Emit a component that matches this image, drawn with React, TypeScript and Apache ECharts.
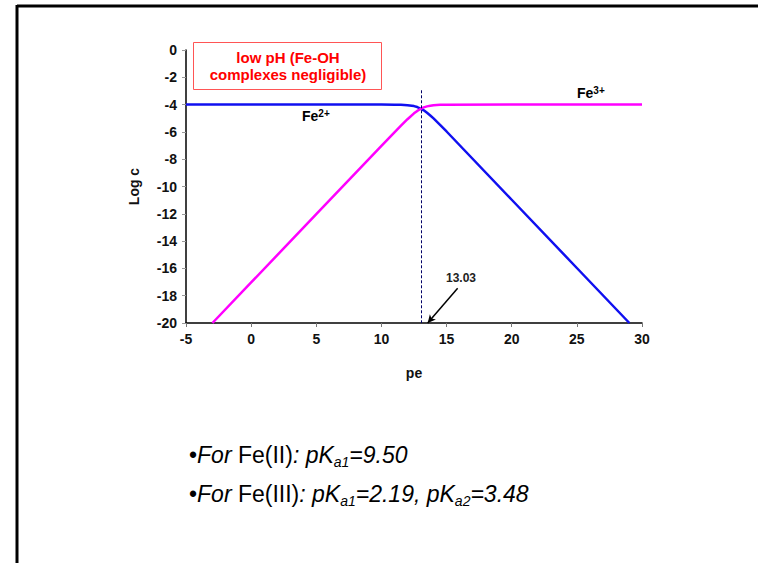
import React, { useEffect, useRef } from "react";
import * as echarts from "echarts";

// Data
const fe2Pe = [-5, 0, 5, 10, 11, 11.5, 12, 12.5, 12.75, 13, 13.25, 13.5, 13.75, 14, 14.5, 15, 20, 25, 29.03];
const fe2LogC = [-4, -4, -4, -4, -4.004, -4.013, -4.04, -4.11, -4.18, -4.29, -4.42, -4.6, -4.8, -5.01, -5.48, -5.97, -10.97, -15.97, -20];
const fe3Pe = [-2.97, 0, 5, 10, 11, 11.5, 12, 12.5, 12.75, 13, 13.25, 13.5, 13.75, 14, 14.5, 15, 20, 30];
const fe3LogC = [-20, -17.03, -12.03, -7.03, -6.03, -5.54, -5.07, -4.64, -4.46, -4.32, -4.2, -4.13, -4.08, -4.04, -4.014, -4.005, -4, -4];
const crossPe = 13.03;
const dashTop = -2.95;
const arrowFrom = [15.85, -17.45];
const arrowTo = [13.55, -20];

const xMin = -5, xMax = 30, xStep = 5;
const yMin = -20, yMax = 0, yStep = 2;

export default function App() {
  const ref = useRef<HTMLDivElement>(null);
  useEffect(() => {
    if (!ref.current) return;
    const chart = echarts.init(ref.current, null, { renderer: "svg" });
    const purple = "#9900CC";
    const font = "Liberation Sans, Arial, sans-serif";
    const rich = {
      n: { fontSize: 23, fontFamily: font, color: purple, fontStyle: "normal" },
      i: { fontSize: 23, fontFamily: font, color: purple, fontStyle: "italic" },
      s: { fontSize: 14, fontFamily: font, color: purple, fontStyle: "italic", verticalAlign: "bottom", padding: [0, 0, -2, 0] },
    };
    chart.setOption({
      animation: false,
      backgroundColor: "#fff",
      grid: { left: 186, top: 50, right: 116, bottom: 240, containLabel: false },
      xAxis: {
        type: "value",
        min: xMin,
        max: xMax,
        interval: xStep,
        name: "pe",
        nameLocation: "middle",
        nameGap: 43,
        nameTextStyle: { fontWeight: "bold", fontSize: 14, fontFamily: font, color: "#111" },
        axisLine: { onZero: false, lineStyle: { color: "#000", width: 1.5 } },
        axisTick: { show: true, length: 4, lineStyle: { color: "#777" } },
        axisLabel: { fontWeight: "bold", fontSize: 14, fontFamily: font, color: "#111", margin: 9 },
        splitLine: { show: false },
      },
      yAxis: {
        type: "value",
        min: yMin,
        max: yMax,
        interval: yStep,
        name: "Log c",
        nameLocation: "middle",
        nameGap: 45,
        nameRotate: 90,
        nameTextStyle: { fontWeight: "bold", fontSize: 14, fontFamily: font, color: "#111" },
        axisLine: { show: true, onZero: false, lineStyle: { color: "#000", width: 1.5 } },
        axisTick: { show: true, length: 4, lineStyle: { color: "#999" } },
        axisLabel: { fontWeight: "bold", fontSize: 14, fontFamily: font, color: "#111", margin: 9 },
        splitLine: { show: false },
      },
      series: [
        {
          type: "line",
          name: "Fe2+",
          data: fe2Pe.map((p, i) => [p, fe2LogC[i]]),
          showSymbol: false,
          smooth: false,
          lineStyle: { color: "#1010F0", width: 2.5 },
          z: 3,
        },
        {
          type: "line",
          name: "Fe3+",
          data: fe3Pe.map((p, i) => [p, fe3LogC[i]]),
          showSymbol: false,
          smooth: false,
          lineStyle: { color: "#FF00FF", width: 2.5 },
          z: 3,
          markLine: {
            silent: true,
            label: { show: false },
            data: [
              [
                { coord: [crossPe, dashTop], symbol: "none", lineStyle: { color: "#000066", type: [3, 2], width: 1 } },
                { coord: [crossPe, yMin], symbol: "none" },
              ],
              [
                { coord: arrowFrom, symbol: "none", lineStyle: { color: "#000", type: "solid", width: 1.5 } },
                { coord: arrowTo, symbol: "arrow", symbolSize: [6, 8] },
              ],
            ],
          },
        },
      ],
      graphic: [
        { type: "line", shape: { x1: 17, y1: 6, x2: 758, y2: 6 }, style: { stroke: "#000", lineWidth: 3 } },
        { type: "line", shape: { x1: 17, y1: 5, x2: 17, y2: 563 }, style: { stroke: "#000", lineWidth: 3 } },
        { type: "rect", shape: { x: 193.5, y: 42.5, width: 188, height: 47 }, style: { fill: "#fff", stroke: "#FF5555", lineWidth: 1 }, z: 10 },
        {
          type: "text", x: 288, y: 66, z: 11,
          style: { text: "low pH (Fe-OH\ncomplexes negligible)", fill: "#FF0000", font: `bold 15px ${font}`, align: "center", verticalAlign: "middle", lineHeight: 17 },
        },
        {
          type: "text", x: 302, y: 116, z: 11,
          style: {
            text: "{a|Fe}{b|2+}", verticalAlign: "middle",
            rich: {
              a: { fontSize: 14, fontWeight: "bold", fontFamily: font, color: "#1010F0" },
              b: { fontSize: 10, fontWeight: "bold", fontFamily: font, color: "#1010F0", padding: [0, 0, 6, 0] },
            },
          },
        },
        {
          type: "text", x: 577, y: 93, z: 11,
          style: {
            text: "{a|Fe}{b|3+}", verticalAlign: "middle",
            rich: {
              a: { fontSize: 14, fontWeight: "bold", fontFamily: font, color: "#FF00FF" },
              b: { fontSize: 10, fontWeight: "bold", fontFamily: font, color: "#FF00FF", padding: [0, 0, 6, 0] },
            },
          },
        },
        {
          type: "text", x: 461, y: 278, z: 11,
          style: { text: "13.03", font: `bold 12px ${font}`, fill: "#222", align: "center", verticalAlign: "middle" },
        },
        {
          type: "text", x: 189, y: 455, z: 11,
          style: { text: "{n|•}{i|For}{n| Fe(II)}{i|: pK}{s|a1}{i|=9.50}", verticalAlign: "middle", rich },
        },
        {
          type: "text", x: 189, y: 494, z: 11,
          style: { text: "{n|•}{i|For}{n| Fe(III)}{i|: pK}{s|a1}{i|=2.19, pK}{s|a2}{i|=3.48}", verticalAlign: "middle", rich },
        },
      ],
    });
    return () => chart.dispose();
  }, []);
  return <div ref={ref} style={{ position: "fixed", left: 0, top: 0, width: 758, height: 563, background: "#fff" }} />;
}
